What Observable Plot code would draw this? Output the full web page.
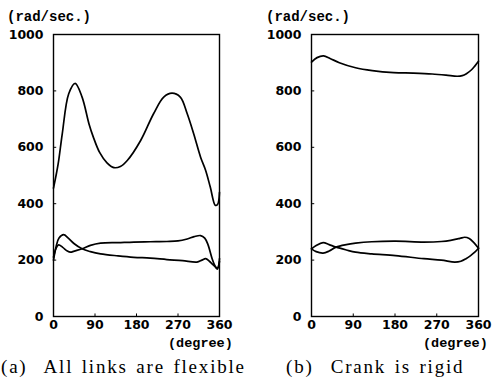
<!DOCTYPE html>
<html><head><meta charset="utf-8">
<script src="https://cdn.jsdelivr.net/npm/d3@7"></script>
<script src="https://cdn.jsdelivr.net/npm/@observablehq/plot@0.6"></script>
<style>
body{margin:0;background:#fff;}
#root{position:relative;width:492px;height:388px;overflow:hidden;background:#fff;}
.panel{position:absolute;top:0;width:246px;height:340px;}
.unit{position:absolute;font-family:"Liberation Mono",monospace;font-weight:bold;color:#000;white-space:pre;line-height:1;}
.caption{position:absolute;font-family:"Liberation Serif",serif;font-size:19px;letter-spacing:1.8px;word-spacing:2px;color:#000;white-space:pre;line-height:1;}
</style>
</head><body>
<div id="root">
  <div id="pa" class="panel" style="left:0"></div>
  <div id="pb" class="panel" style="left:246px"></div>
  <div class="unit" style="left:7px;top:10px;font-size:14px">(rad/sec.)</div>
  <div class="unit" style="left:266px;top:10px;font-size:14px">(rad/sec.)</div>
  <div class="unit" style="left:168px;top:337px;font-size:13.5px">(degree)</div>
  <div class="unit" style="left:423px;top:337px;font-size:13.5px">(degree)</div>
  <div class="caption" style="left:1px;top:357px">(a)  All links are flexible</div>
  <div class="caption" style="left:286px;top:357px">(b)  Crank is rigid</div>
</div>
<script>
// axis ticks
const xTicks = [0, 90, 180, 270, 360];
const yTicks = [0, 200, 400, 600, 800, 1000];

// (a) All links are flexible
const aTopDeg = [0, 10, 19, 33, 47, 62, 77, 86, 100, 116, 131, 145, 160, 189, 217, 239, 257, 275, 290, 304, 319, 330, 340, 351, 356, 360];
const aTopVal = [455, 540, 648, 790, 827, 778, 683, 638, 582, 545, 528, 532, 553, 624, 719, 778, 792, 778, 719, 648, 565, 518, 459, 394, 398, 440];
const aLowDeg = [0, 6, 12, 22, 32, 45, 62, 80, 102, 140, 174, 210, 246, 280, 311, 322, 330, 338, 344, 351, 356, 360];
const aLowVal = [200, 250, 278, 290, 278, 258, 240, 230, 222, 215, 210, 207, 202, 198, 193, 200, 205, 196, 187, 176, 172, 205];
const aMidDeg = [0, 5, 11, 20, 30, 37, 45, 62, 80, 102, 140, 174, 210, 246, 270, 290, 305, 319, 328, 335, 344, 350, 355, 360];
const aMidVal = [210, 240, 254, 245, 232, 228, 232, 240, 252, 260, 262, 264, 265, 266, 268, 275, 283, 287, 278, 255, 205, 180, 168, 195];

// (b) Crank is rigid
const bTopDeg = [0, 12, 26, 40, 60, 95, 131, 177, 219, 260, 290, 314, 325, 334, 345, 352, 360];
const bTopVal = [902, 918, 924, 915, 900, 882, 872, 865, 863, 860, 856, 852, 854, 861, 875, 888, 905];
const bLowDeg = [0, 10, 25, 38, 53, 75, 95, 130, 181, 242, 280, 309, 322, 333, 343, 352, 360];
const bLowVal = [240, 252, 262, 255, 246, 236, 228, 222, 216, 205, 200, 193, 196, 205, 216, 228, 242];
const bMidDeg = [0, 10, 25, 38, 53, 75, 95, 130, 181, 242, 280, 300, 320, 330, 340, 350, 360];
const bMidVal = [240, 230, 225, 232, 246, 255, 260, 265, 267, 264, 266, 270, 277, 281, 277, 262, 242];

function panel(series, ml, mr) {
  return Plot.plot({
    width: 246, height: 340,
    marginLeft: ml, marginRight: mr, marginTop: 34, marginBottom: 24,
    style: {fontFamily: "DejaVu Sans", fontSize: "12.5px", fontWeight: "bold", color: "#000", background: "#fff", overflow: "visible"},
    x: {domain: [0, 360], ticks: xTicks, tickSize: 0, tickPadding: 4, tickFormat: d => String(d), label: null},
    y: {domain: [0, 1000], ticks: yTicks, tickSize: 0, tickPadding: 10, tickFormat: d => String(d), label: null},
    marks: [
      Plot.ruleX(xTicks.slice(1, -1), {x: d => d, y1: 0, y2: 9, stroke: "#000", strokeWidth: 1}),
      Plot.ruleY(yTicks.slice(1, -1), {y: d => d, x1: 0, x2: 7, stroke: "#000", strokeWidth: 1}),
      ...series.map(([xs, ys]) => Plot.line(xs, {x: xs, y: ys, curve: "catmull-rom", stroke: "#000", strokeWidth: 1.7})),
      Plot.frame({stroke: "#000", strokeWidth: 1.4})
    ]
  });
}

document.getElementById("pa").append(panel([[aTopDeg, aTopVal], [aLowDeg, aLowVal], [aMidDeg, aMidVal]], 53, 27));
document.getElementById("pb").append(panel([[bTopDeg, bTopVal], [bLowDeg, bLowVal], [bMidDeg, bMidVal]], 65, 14));
</script>
</body></html>
